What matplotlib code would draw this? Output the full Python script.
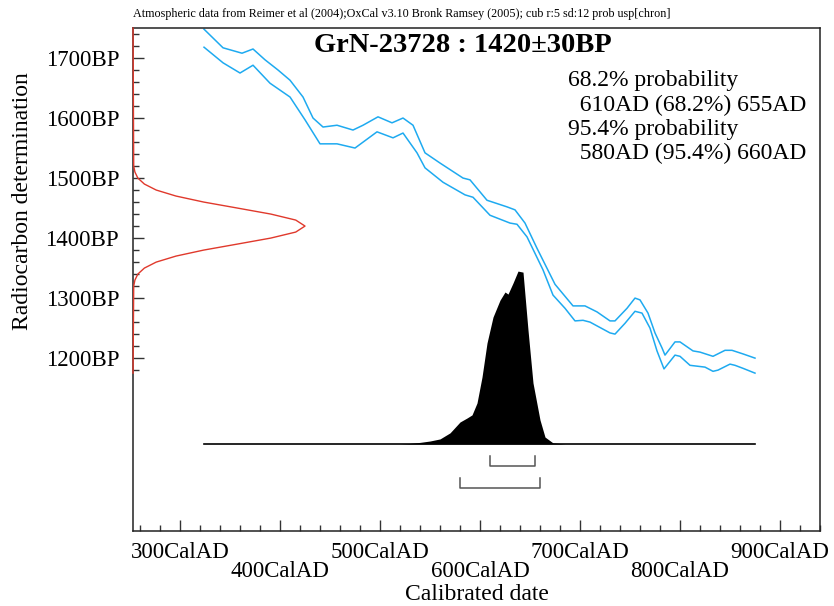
import numpy as np
import matplotlib
matplotlib.use("Agg")
from matplotlib import pyplot as plt

# calibration curve (IntCal04), +/- 1 sigma envelope
curve_years_hi = [324, 343, 362, 373, 385, 398, 410, 423, 433, 443, 457, 473, 483, 498,
                  512, 523, 533, 545, 560, 583, 590, 607, 627, 635, 645, 657, 675, 684,
                  693, 705, 717, 730, 735, 747, 755, 760, 768, 775, 782, 785, 795, 800,
                  813, 820, 833, 845, 852, 863, 875]
curve_bp_hi = [1748, 1717, 1708, 1715, 1697, 1680, 1663, 1635, 1600, 1585, 1588, 1580, 1588, 1602,
               1592, 1600, 1588, 1542, 1525, 1500, 1497, 1463, 1452, 1447, 1425, 1383, 1323, 1305,
               1287, 1287, 1277, 1262, 1262, 1283, 1300, 1297, 1275, 1242, 1217, 1205, 1227, 1227,
               1212, 1210, 1203, 1213, 1213, 1207, 1200]
curve_years_lo = [324, 343, 360, 373, 390, 410, 425, 440, 457, 475, 497, 513, 523, 537,
                  545, 563, 585, 593, 610, 630, 637, 647, 663, 673, 685, 695, 703, 710,
                  730, 735, 745, 755, 762, 770, 777, 784, 795, 800, 810, 825, 833, 838,
                  850, 855, 863, 875]
curve_bp_lo = [1718, 1692, 1675, 1688, 1658, 1635, 1597, 1557, 1557, 1550, 1577, 1567, 1575, 1542,
               1517, 1493, 1472, 1468, 1438, 1425, 1423, 1402, 1347, 1305, 1283, 1262, 1263, 1260,
               1242, 1240, 1258, 1278, 1275, 1250, 1212, 1182, 1205, 1203, 1188, 1185, 1178, 1180,
               1190, 1188, 1183, 1175]

# calibrated probability (relative)
cal_years = [520, 530, 540, 550, 560, 570, 580, 587, 592, 597, 602, 607, 613, 620, 625,
             628, 633, 638, 643, 648, 653, 660, 665, 673, 685]
cal_prob = [0.0, 0.003, 0.009, 0.017, 0.029, 0.064, 0.127, 0.150, 0.168, 0.237, 0.387, 0.584,
            0.734, 0.832, 0.879, 0.867, 0.931, 1.0, 0.994, 0.659, 0.353, 0.139, 0.040, 0.006, 0.0]

# radiocarbon measurement 1420 +/- 30 BP (relative probability)
meas_bp = [1175, 1320, 1330, 1340, 1350, 1360, 1370, 1380, 1390, 1400, 1410, 1420,
           1430, 1440, 1450, 1460, 1470, 1480, 1490, 1500, 1510, 1520, 1750]
meas_prob = [0.0, 0.004, 0.011, 0.028, 0.066, 0.135, 0.250, 0.411, 0.607, 0.801, 0.946,
             1.0, 0.946, 0.801, 0.607, 0.411, 0.250, 0.135, 0.066, 0.028, 0.011, 0.004, 0.0]

range68 = [610, 655]
range95 = [580, 660]

xticks = [300, 400, 500, 600, 700, 800, 900]
yticks = [1200, 1300, 1400, 1500, 1600, 1700]

SERIF = ['Liberation Serif', 'DejaVu Serif']
plt.rcParams['font.family'] = SERIF

fig = plt.figure(figsize=(8.34, 6.06), dpi=100)
ax = fig.add_axes([0.1595, 0.1238, 0.8237, 0.83])
ax.set_xlim(253, 940)
ax.set_ylim(912, 1750)

blue = '#1eaaf0'
ax.plot(curve_years_hi, curve_bp_hi, color=blue, lw=1.1, solid_joinstyle='round')
ax.plot(curve_years_lo, curve_bp_lo, color=blue, lw=1.1, solid_joinstyle='round')

base = 1057
scale = 288
ax.fill_between(cal_years, base, base + np.array(cal_prob) * scale, color='black', lw=0)
ax.plot([curve_years_hi[0], curve_years_hi[-1]], [base, base], color='black', lw=1.2)

gray = '#555555'
for rng, yb in [(range68, 1020), (range95, 983)]:
    ax.plot([rng[0], rng[0], rng[1], rng[1]], [yb + 17, yb, yb, yb + 17], color=gray, lw=1.1)

x0 = 253
ax.plot(x0 + np.array(meas_prob) * 172, meas_bp, color='#e0392c', lw=1.0, clip_on=False, zorder=5)

ax.set_xticks(xticks)
ax.set_xticklabels([('%dCalAD' % v) if i % 2 == 0 else ('\n%dCalAD' % v) for i, v in enumerate(xticks)])
ax.set_xticks(np.arange(260, 941, 20), minor=True)
ax.set_yticks(yticks)
ax.set_yticklabels(['%dBP' % v for v in yticks])
ax.set_yticks(np.arange(1180, 1741, 20), minor=True)
for lab in ax.get_xticklabels():
    lab.set_linespacing(0.84)

ax.tick_params(which='both', direction='in', color='#333333', width=1, labelsize=16.5)
ax.tick_params(which='major', length=8)
ax.tick_params(which='minor', length=4)
ax.tick_params(axis='x', pad=8)
ax.tick_params(axis='y', pad=10)
for s in ax.spines.values():
    s.set_color('#222222')
    s.set_linewidth(1.1)

ax.set_xlabel('Calibrated date', fontsize=17, labelpad=2)
ax.set_ylabel('Radiocarbon determination', fontsize=17)
ax.yaxis.set_label_coords(-0.146, 0.656)

ax.text(0.48, 0.966, 'GrN-23728 : 1420\u00b130BP', transform=ax.transAxes, ha='center', va='center',
        fontsize=20.5, fontweight='bold')
ax.text(0.633, 0.916, '68.2% probability\n  610AD (68.2%) 655AD\n95.4% probability\n  580AD (95.4%) 660AD',
        transform=ax.transAxes, ha='left', va='top', fontsize=17, linespacing=1.2)

fig.text(0.1595, 0.977, 'Atmospheric data from Reimer et al (2004);OxCal v3.10 Bronk Ramsey (2005); cub r:5 sd:12 prob usp[chron]',
         ha='left', va='center', fontsize=8.7)

fig.savefig('out.png', dpi=100)
